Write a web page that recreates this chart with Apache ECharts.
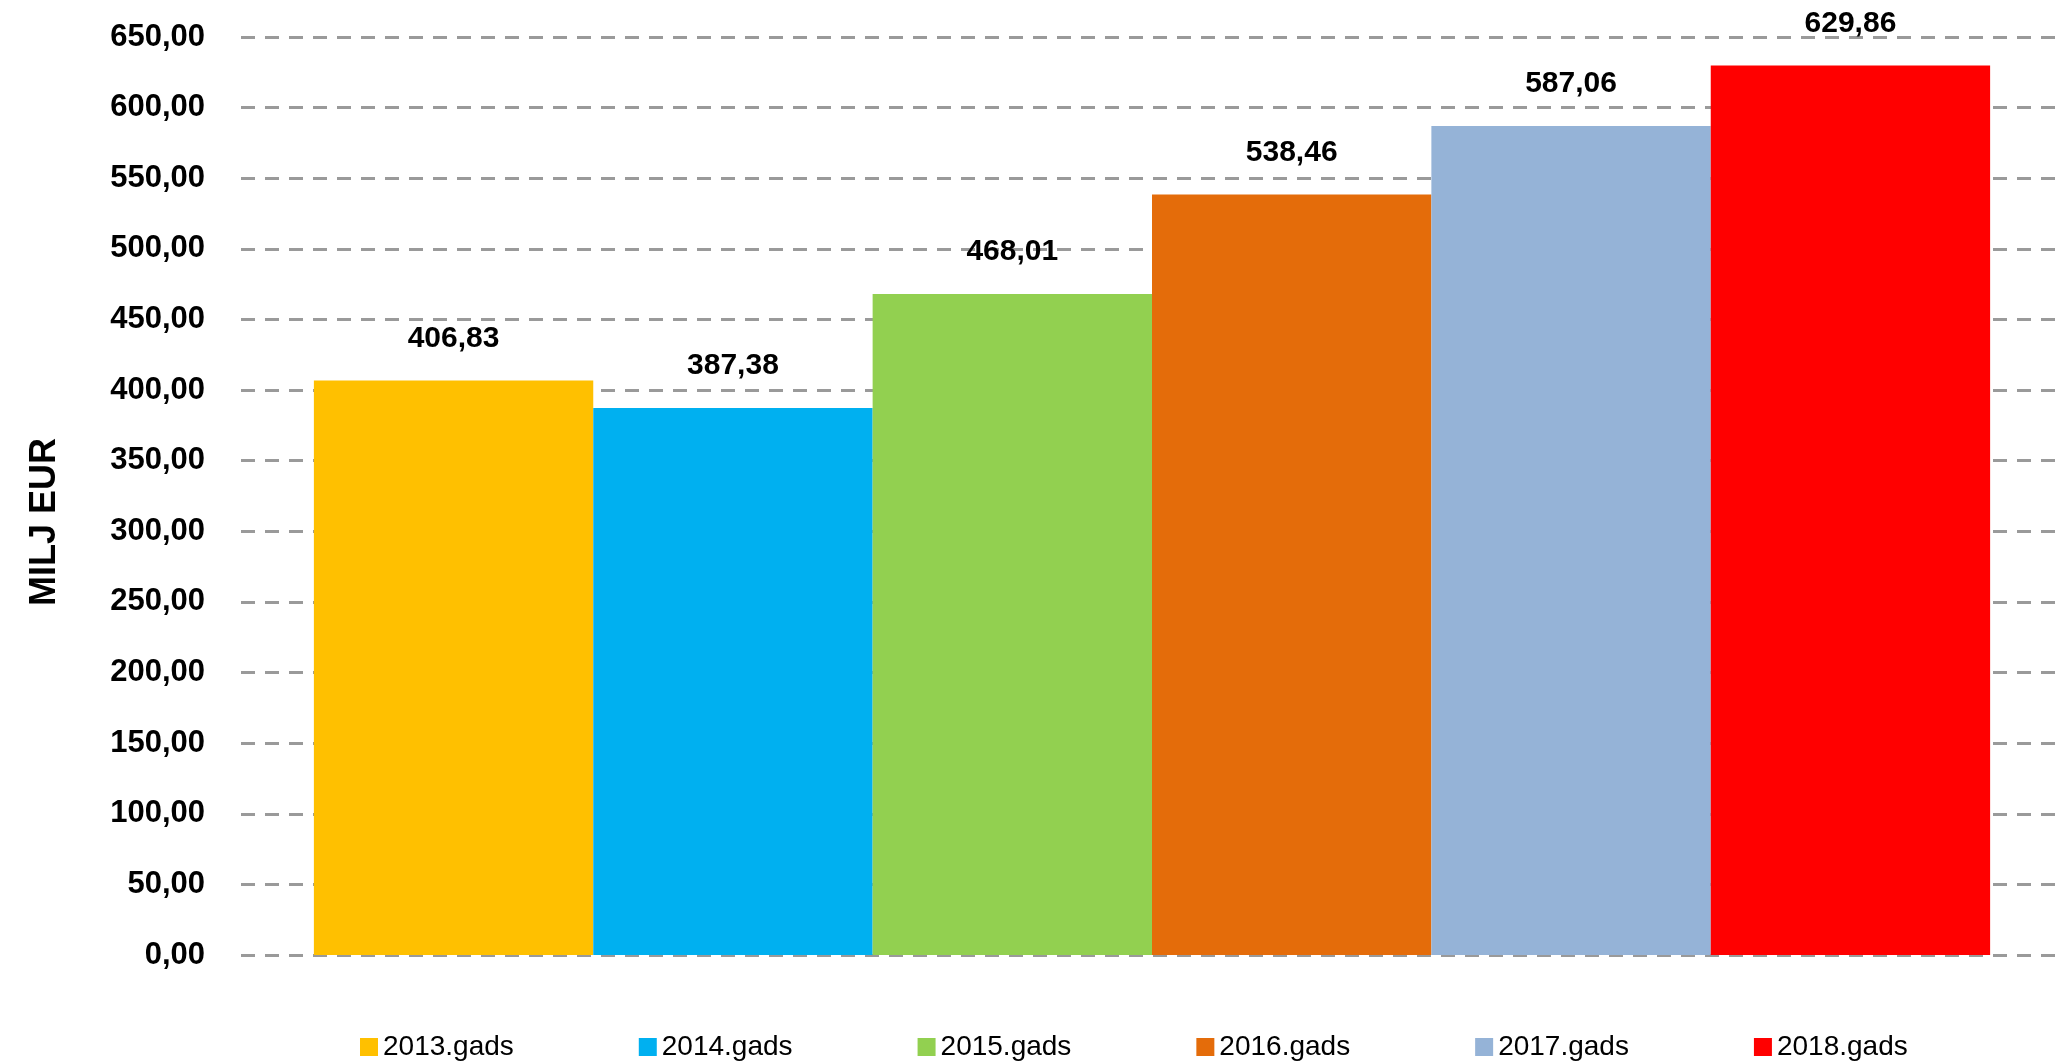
<!DOCTYPE html>
<html>
<head>
<meta charset="utf-8">
<script src="https://cdn.jsdelivr.net/npm/echarts@6/dist/echarts.min.js"></script>
<style>
  html, body { margin: 0; padding: 0; background: #fff; }
  #chart { width: 2063px; height: 1062px; }
</style>
</head>
<body>
<div id="chart"></div>
<script>
// gadi un vērtības (milj. EUR)
const years = ['2013.gads', '2014.gads', '2015.gads', '2016.gads', '2017.gads', '2018.gads'];
const values = [406.83, 387.38, 468.01, 538.46, 587.06, 629.86];
const colors = ['#FFC000', '#00B0F0', '#92D050', '#E46C0A', '#95B3D7', '#FF0000'];
const yTicks = { min: 0, max: 650, interval: 50 };

const fmt = v => v.toFixed(2).replace('.', ',');
const font = "'Liberation Sans', Arial, sans-serif";

const chart = echarts.init(document.getElementById('chart'));

const series = years.map((name, i) => ({
  name: name,
  type: 'bar',
  data: [values[i]],
  barGap: '0%',
  barCategoryGap: '8%',
  itemStyle: { color: colors[i] },
  label: {
    show: true,
    position: 'top',
    distance: 27,
    formatter: p => fmt(p.value),
    fontFamily: font,
    fontWeight: 'bold',
    fontSize: 30,
    color: '#000'
  }
}));

const option = {
  animation: false,
  grid: { left: 241, right: 0, top: 37, bottom: 107 },
  legend: {
    top: 1028,
    left: 355,
    icon: 'rect',
    itemWidth: 18,
    itemHeight: 18,
    itemGap: 125,
    textStyle: { fontFamily: font, fontSize: 28, color: '#000' },
    data: years
  },
  xAxis: {
    type: 'category',
    data: [''],
    axisLine: { show: false },
    axisTick: { show: false },
    axisLabel: { show: false }
  },
  yAxis: {
    type: 'value',
    min: yTicks.min,
    max: yTicks.max,
    interval: yTicks.interval,
    name: 'MILJ EUR',
    nameLocation: 'middle',
    nameGap: 178,
    nameTextStyle: {
      fontFamily: font,
      fontWeight: 'bold',
      fontSize: 36,
      color: '#000',
      padding: [0, 52, 0, 0]
    },
    axisLine: { show: false },
    axisTick: { show: false },
    axisLabel: {
      formatter: v => fmt(v),
      fontFamily: font,
      fontWeight: 'bold',
      fontSize: 31,
      color: '#000',
      margin: 36
    },
    splitLine: {
      lineStyle: { color: '#9a9a9a', width: 3, type: [14, 10] }
    }
  },
  series: series
};

chart.setOption(option);
</script>
</body>
</html>
